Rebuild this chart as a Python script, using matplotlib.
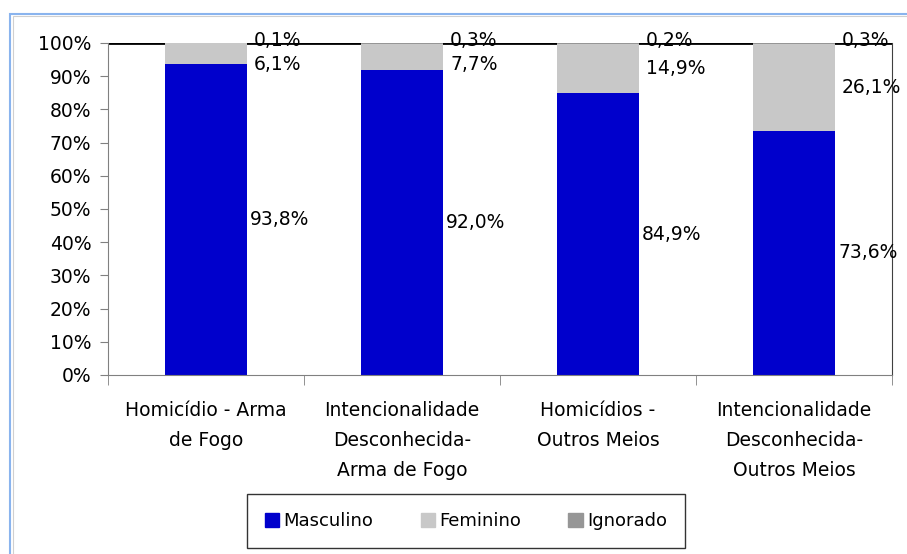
import matplotlib
matplotlib.use("Agg")
import matplotlib.pyplot as plt
import numpy as np
from matplotlib.patches import Rectangle, Patch

categories = ["Homicídio - Arma\nde Fogo",
              "Intencionalidade\nDesconhecida-\nArma de Fogo",
              "Homicídios -\nOutros Meios",
              "Intencionalidade\nDesconhecida-\nOutros Meios"]
masculino = [93.8, 92.0, 84.9, 73.6]
feminino = [6.1, 7.7, 14.9, 26.1]
ignorado = [0.1, 0.3, 0.2, 0.3]
yticks = [0, 10, 20, 30, 40, 50, 60, 70, 80, 90, 100]

plt.rcParams['font.family'] = ['DejaVu Sans']

W, H = 907, 554
fig = plt.figure(figsize=(W / 100, H / 100), dpi=100)

# outer frame
fig.patches.append(Rectangle((10 / W, -0.1), 1.2, 1 - 14 / H + 0.1, transform=fig.transFigure,
                             fill=False, edgecolor='#8AB4EE', linewidth=1.5, zorder=0))
fig.patches.append(Rectangle((12.5 / W, -0.1), 1.2, 1 - 16.5 / H + 0.1, transform=fig.transFigure,
                             fill=False, edgecolor='#D0D0D0', linewidth=0.8, zorder=0))

ax = fig.add_axes([108 / W, 1 - 375 / H, (892 - 108) / W, (375 - 43) / H])
x = np.arange(len(categories))
bw = 0.42
ax.axhline(100, color='black', linewidth=2, zorder=1)
c_m, c_f, c_i = '#0000CC', '#C8C8C8', '#969696'
m = np.array(masculino)
f = np.array(feminino)
ig = np.array(ignorado)
ax.bar(x, m, bw, color=c_m, zorder=2, label='Masculino')
ax.bar(x, f, bw, bottom=m, color=c_f, zorder=2, label='Feminino')
ax.bar(x, ig, bw, bottom=m + f, color=c_i, zorder=2, label='Ignorado')

def fmt(v):
    return f"{v:.1f}%".replace('.', ',')

fs = 13.5
for i in range(len(x)):
    xl = x[i] + bw / 2 + 0.015
    ax.text(xl, m[i] / 2, fmt(m[i]), ha='left', va='center', fontsize=fs, zorder=5)
    fy = min(m[i] + f[i] / 2, 93.4)
    ax.text(xl + 0.02, fy, fmt(f[i]), ha='left', va='center', fontsize=fs, zorder=5)
    ax.text(xl + 0.02, 100.9, fmt(ig[i]), ha='left', va='center', fontsize=fs, zorder=5)

ax.set_xlim(-0.5, len(x) - 0.5)
ax.set_ylim(0, 100)
ax.set_yticks(yticks)
ax.set_yticklabels([f"{t}%" for t in yticks], fontsize=fs)
ax.set_xticks(x)
ax.set_xticklabels(categories, fontsize=fs, linespacing=1.75)
ax.tick_params(axis='x', length=0, pad=18.5)
ax.set_xticks(np.arange(-0.5, len(x)), minor=True)
ax.tick_params(axis='x', which='minor', length=7, color='#808080')
ax.tick_params(axis='y', length=6, color='#808080', pad=6)
for s in ['left', 'bottom']:
    ax.spines[s].set_color('#808080')
ax.spines['right'].set_color('#404040')
ax.spines['top'].set_visible(False)

handles = [Patch(color=c_m, label='Masculino'), Patch(color=c_f, label='Feminino'),
           Patch(color=c_i, label='Ignorado')]
leg = fig.legend(handles=handles, loc='center', bbox_to_anchor=(466 / W, 1 - 521 / H), ncol=3,
                 frameon=True, fancybox=False, edgecolor='black', fontsize=13,
                 handlelength=0.8, handleheight=0.8, handletextpad=0.25, columnspacing=2.6,
                 borderpad=1.0, borderaxespad=0)
leg.get_frame().set_linewidth(1.0)

fig.savefig('out.png', dpi=100)
